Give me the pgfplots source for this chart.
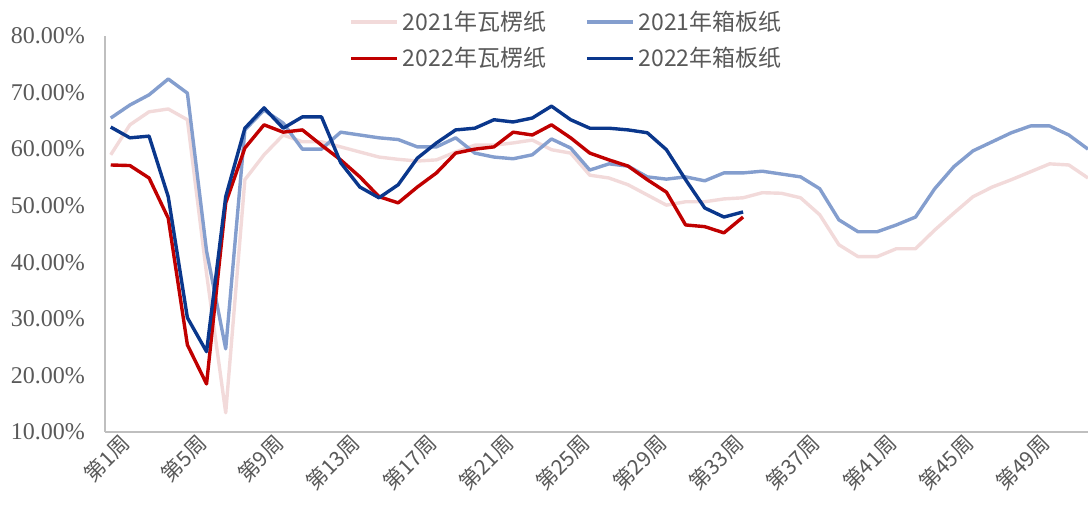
\documentclass[border=0pt]{standalone}
\usepackage{fontspec}
\setmainfont{Liberation Serif}
\newfontfamily\cjk{Noto Sans CJK SC}
\usepackage{pgfplots}
\pgfplotsset{compat=1.18}
\usepackage{pgfplotstable}

\definecolor{pinkline}{RGB}{242,218,218}
\definecolor{lightblue}{RGB}{132,158,206}
\definecolor{darkred}{RGB}{192,0,0}
\definecolor{darkblue}{RGB}{10,55,140}
\definecolor{axisgray}{RGB}{191,191,191}
\definecolor{textgray}{RGB}{89,89,89}

% week, value (%)
\pgfplotstableread{
w v
1 59.0
2 64.3
3 66.6
4 67.1
5 65.2
6 38.0
7 13.4
8 54.6
9 59.0
10 62.5
11 61.3
12 61.3
13 60.4
14 59.5
15 58.6
16 58.2
17 57.9
18 58.1
19 59.5
20 60.7
21 60.7
22 61.1
23 61.6
24 59.9
25 59.3
26 55.4
27 54.9
28 53.7
29 51.9
30 50.1
31 50.7
32 50.7
33 51.2
34 51.4
35 52.3
36 52.2
37 51.4
38 48.4
39 43.1
40 41.0
41 41.0
42 42.4
43 42.4
44 45.7
45 48.7
46 51.6
47 53.3
48 54.6
49 56.0
50 57.4
51 57.2
52 54.9
}\wlzA

\pgfplotstableread{
w v
1 65.5
2 67.8
3 69.6
4 72.4
5 69.9
6 42.0
7 24.7
8 63.4
9 66.9
10 64.6
11 60.0
12 60.0
13 63.0
14 62.5
15 62.0
16 61.7
17 60.4
18 60.4
19 62.0
20 59.3
21 58.6
22 58.3
23 59.0
24 61.8
25 60.2
26 56.3
27 57.4
28 57.0
29 55.1
30 54.7
31 55.1
32 54.4
33 55.8
34 55.8
35 56.1
36 55.6
37 55.1
38 53.0
39 47.5
40 45.4
41 45.4
42 46.6
43 48.0
44 53.0
45 56.9
46 59.7
47 61.3
48 62.9
49 64.1
50 64.1
51 62.5
52 60.0
}\xbzA

\pgfplotstableread{
w v
1 57.2
2 57.1
3 54.9
4 47.8
5 25.4
6 18.5
7 50.5
8 60.2
9 64.3
10 63.0
11 63.4
12 60.7
13 58.1
14 55.1
15 51.6
16 50.5
17 53.3
18 55.8
19 59.3
20 60.0
21 60.4
22 63.0
23 62.5
24 64.3
25 62.0
26 59.3
27 58.1
28 57.0
29 54.6
30 52.4
31 46.6
32 46.3
33 45.2
34 48.0
}\wlzB

\pgfplotstableread{
w v
1 63.9
2 62.0
3 62.3
4 51.6
5 30.2
6 24.2
7 51.6
8 63.7
9 67.3
10 63.7
11 65.7
12 65.7
13 57.6
14 53.3
15 51.4
16 53.7
17 58.4
18 61.1
19 63.4
20 63.7
21 65.2
22 64.8
23 65.5
24 67.6
25 65.2
26 63.7
27 63.7
28 63.4
29 62.9
30 59.9
31 54.6
32 49.6
33 48.0
34 48.9
}\xbzB

\begin{document}
\begin{tikzpicture}
\begin{axis}[
  name=main, at={(0,0)}, anchor=south west,
  scale only axis,
  width=491.5pt, height=198pt,
  xmin=0.7, xmax=52,
  ymin=10, ymax=80,
  ytick={10,20,...,80},
  xtick={1,5,...,49},
  xticklabel={第\pgfmathprintnumber{\tick}周},
  yticklabel={\pgfmathprintnumber[fixed,fixed zerofill,precision=2]{\tick}\%},
  /pgf/number format/assume math mode=true,
  axis x line*=bottom, axis y line*=left,
  axis line style={draw=axisgray, line width=1pt, -},
  major tick length=0pt,
  tick label style={text=textgray},
  y tick label style={font=\fontsize{12}{14}\selectfont, anchor=east, xshift=-6.5pt},
  x tick label style={font=\cjk\fontsize{10.5}{13}\selectfont, rotate=45, anchor=north east, xshift=4pt, yshift=-2pt, inner sep=1pt},
  clip=true,
  legend columns=2,
  legend style={at={(0.4705,1.075)}, anchor=north, draw=none, fill=none,
    font=\cjk\fontsize{11.5}{13}\selectfont, text=textgray,
    /tikz/every even column/.append style={column sep=17.5pt},
    row sep=3pt, inner sep=0pt},
  legend cell align=left,
  legend image code/.code={\draw[#1, line width=1.8pt] (0pt,0pt) -- (23pt,0pt);},
  every axis plot/.append style={line width=1.7pt, line join=round},
]
\addplot[pinkline] table[x=w, y=v] {\wlzA};
\addlegendentry{2021年瓦楞纸}
\addplot[lightblue] table[x=w, y=v] {\xbzA};
\addlegendentry{2021年箱板纸}
\addplot[darkred] table[x=w, y=v] {\wlzB};
\addlegendentry{2022年瓦楞纸}
\addplot[darkblue] table[x=w, y=v] {\xbzB};
\addlegendentry{2022年箱板纸}
\end{axis}
\pgfresetboundingbox
\useasboundingbox (-52.5pt,-38pt) rectangle (491.5pt,216pt);
\end{tikzpicture}
\end{document}
